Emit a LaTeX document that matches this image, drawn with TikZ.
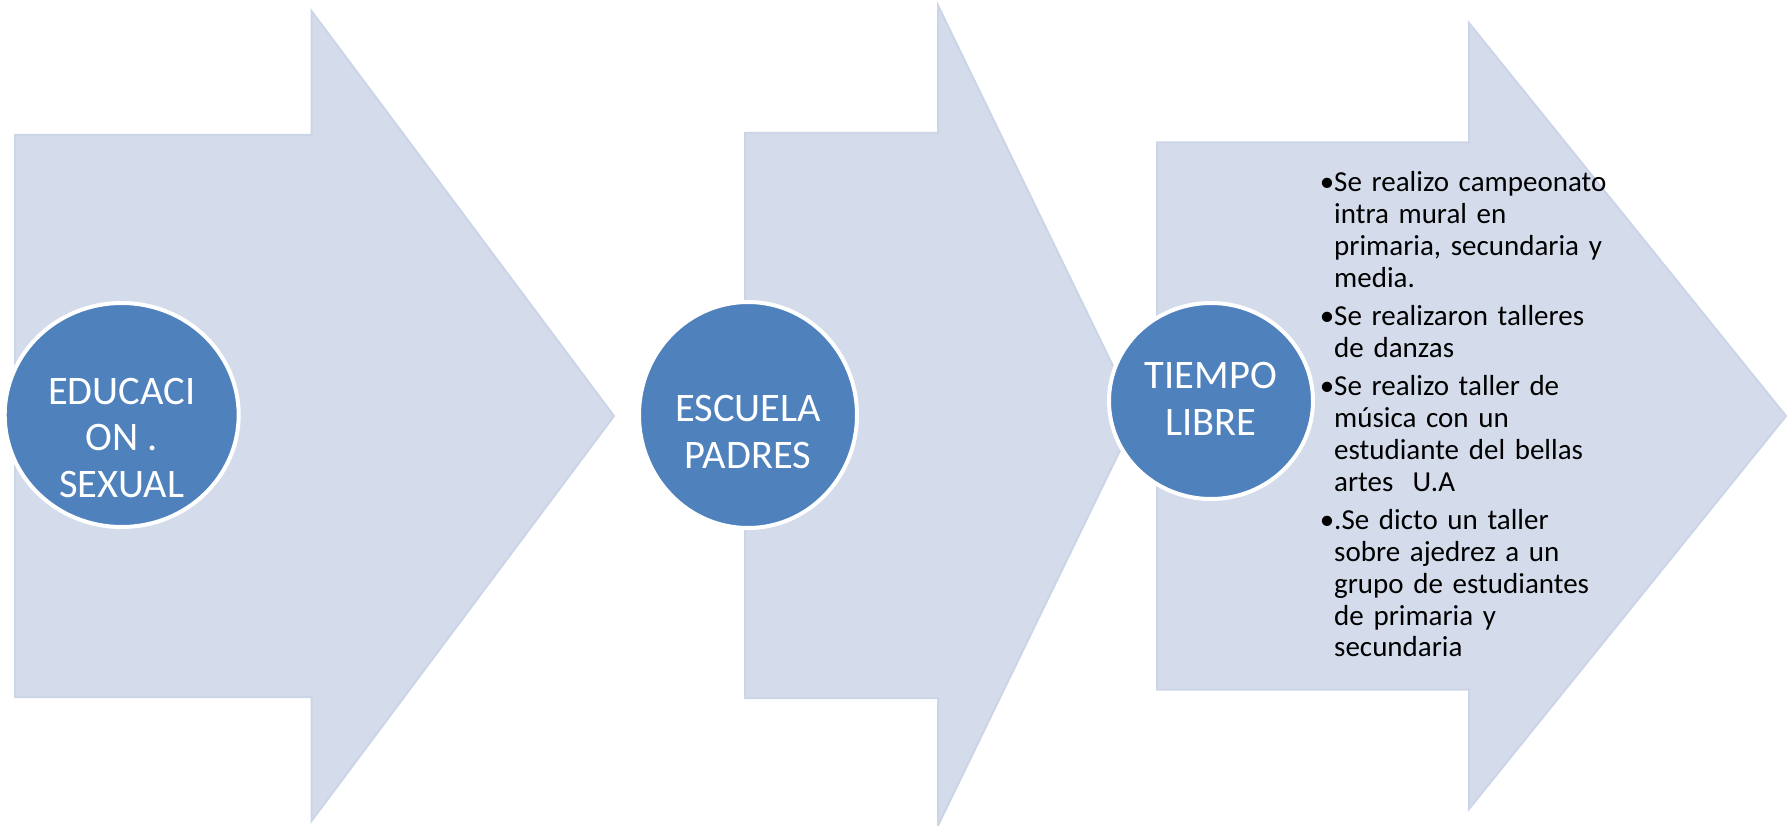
\documentclass[tikz,border=0pt]{standalone}
\usepackage{fontspec}
\setmainfont{Carlito}
\usetikzlibrary{shapes.geometric}
\definecolor{arrowfill}{RGB}{212,220,235}
\definecolor{arrowline}{RGB}{204,213,231}
\definecolor{bubblefill}{RGB}{79,129,189}
% block arrow: (left : half body : head base : half head : tip : middle)
\def\blockarrow[#1](#2:#3:#4:#5:#6:#7){\draw[#1] (#2,{#7-#3}) -- (#4,{#7-#3}) -- (#4,{#7-#5}) -- (#6,#7) -- (#4,{#7+#5}) -- (#4,{#7+#3}) -- (#2,{#7+#3}) -- cycle;}
\def\itembullet{\leavevmode\llap{\textbullet}}

\begin{document}
\begin{tikzpicture}[x=1pt,y=-1pt,
	arrowbox/.style={fill=arrowfill, draw=arrowline, line width=2pt, line join=miter},
	bubble/.style={ellipse, fill=bubblefill, draw=white, line width=4pt, inner sep=0pt},
	bubbletext/.style={text=white, align=center, inner sep=0pt, font=\fontsize{40.5}{46.5}\selectfont},
	listtext/.style={text=black, text width=340pt, align=left, inner sep=0pt, font=\fontsize{29}{31.8}\selectfont}]
			%%%%% START %%%%%
			
			\useasboundingbox (0,0) rectangle (1788,826);
			
			\blockarrow[arrowbox](15:281:311.5:405:614:416);
			\blockarrow[arrowbox](745:282.5:938:410:1137:415.5);
			\blockarrow[arrowbox](1157:273.5:1469:393:1786:416);
			
			\node[bubble, minimum width=234pt, minimum height=224pt] (edu) at (121.7, 415) {};
			\node[bubbletext] (edutext) at ([yshift=-23pt]edu.center) {EDUCACI\\ON .\\SEXUAL};
			
			\node[bubble, minimum width=218pt, minimum height=226pt] (padres) at (748, 415) {};
			\node[bubbletext] (padrestext) at ([yshift=-17pt]padres.center) {ESCUELA\\PADRES};
			
			\node[bubble, minimum width=204pt, minimum height=196pt] (libre) at (1211, 401) {};
			\node[bubbletext] (libretext) at ([yshift=2pt]libre.center) {TIEMPO\\LIBRE};
			
			\node[listtext, anchor=base west] (actividades) at (1334, 191.7) {%
				\itembullet Se realizo campeonato\\
				intra mural en\\
				primaria, secundaria y\\
				media.\\[6.7pt]
				\itembullet Se realizaron talleres\\
				de danzas\\[6.7pt]
				\itembullet Se realizo taller de\\
				música con un\\
				estudiante del bellas\\
				artes~~U.A\\[6.7pt]
				\itembullet .Se dicto un taller\\
				sobre ajedrez a un\\
				grupo de estudiantes\\
				de primaria y\\
				secundaria};
			
			%%%%% END %%%%%
\end{tikzpicture}
\end{document}
